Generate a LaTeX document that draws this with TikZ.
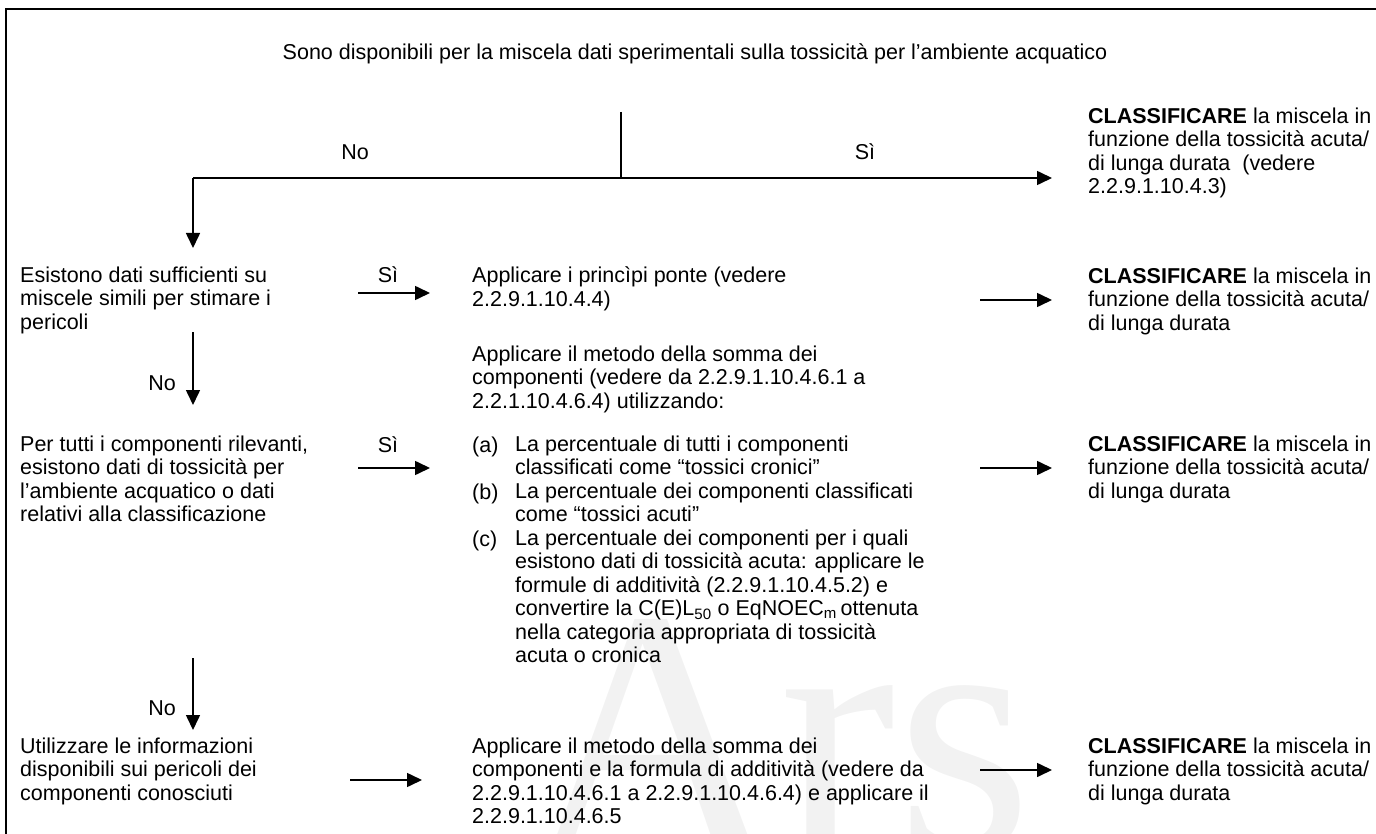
\documentclass[tikz,border=0pt]{standalone}
\usepackage{fontspec}
\setmainfont{Liberation Sans}
\newfontfamily\markfont{Liberation Serif}
\usetikzlibrary{arrows.meta}
\begin{document}
\begin{tikzpicture}[x=1pt,y=-1pt,
  txt/.style={anchor=north west,align=left,inner sep=0pt,font=\fontsize{21.5}{23.5}\selectfont,execute at begin node=\strut},
  lbl/.style={anchor=base,inner sep=0pt,font=\fontsize{21.5}{23.5}\selectfont},
  flow/.style={line width=1.6pt,-{Triangle[length=15pt,width=14pt]}},
  wire/.style={line width=1.6pt}]
\useasboundingbox (0,0) rectangle (1376,834);
% watermark
\node[anchor=base,inner sep=0pt,text=black!5,font=\fontsize{350}{350}\selectfont\markfont] (mark) at (780,850) {Ars};
% outer frame (open at right and bottom)
\draw[line width=2.2pt] (6,834) -- (6,9) -- (1376,9);

% question at the top
\node[lbl] (q0) at (695,60) {Sono disponibili per la miscela dati sperimentali sulla tossicità per l’ambiente acquatico};
\coordinate (q0s) at (621,112);
\coordinate (fork) at (621,178);
\coordinate (forkL) at (193,178);
\coordinate (forkR) at (1052,178);
\coordinate (r1in) at (193,248);
\draw[wire] (q0s) -- (fork);
\draw[flow] (forkL) -- (forkR);
\draw[flow] (forkL) -- (r1in);
\node[lbl] (no0) at (355,160) {No};
\node[lbl] (si0) at (865,160) {Sì};
\node[txt] (c0) at (1088,107.5) {\textbf{CLASSIFICARE} la miscela in\\funzione della tossicità acuta/\\di lunga durata\ \ (vedere\\2.2.9.1.10.4.3)};

% row 1: similar mixtures
\node[txt] (q1) at (20,266.5) {Esistono dati sufficienti su\\miscele simili per stimare i\\pericoli};
\node[lbl] (si1) at (388,283) {Sì};
\coordinate (a1s) at (358,293);
\coordinate (a1e) at (430,293);
\draw[flow] (a1s) -- (a1e);
\node[txt] (p1) at (472,266.5) {Applicare i princìpi ponte (vedere\\2.2.9.1.10.4.4)};
\coordinate (b1s) at (980,300);
\coordinate (b1e) at (1052,300);
\draw[flow] (b1s) -- (b1e);
\node[txt] (c1) at (1088,267.5) {\textbf{CLASSIFICARE} la miscela in\\funzione della tossicità acuta/\\di lunga durata};
\coordinate (d1s) at (193,332);
\coordinate (d1e) at (193,405);
\draw[flow] (d1s) -- (d1e);
\node[lbl] (no1) at (162,390) {No};

% row 2: all relevant components
\node[txt] (p2h) at (472,345.5) {Applicare il metodo della somma dei\\componenti (vedere da 2.2.9.1.10.4.6.1 a\\2.2.1.10.4.6.4) utilizzando:};
\node[txt] (q2) at (20,435.5) {Per tutti i componenti rilevanti,\\esistono dati di tossicità per\\l’ambiente acquatico o dati\\relativi alla classificazione};
\node[lbl] (si2) at (388,452) {Sì};
\coordinate (a2s) at (358,468);
\coordinate (a2e) at (430,468);
\draw[flow] (a2s) -- (a2e);
\node[txt] (ia) at (472,435.5) {(a)};
\node[txt] (ta) at (515,435.5) {La percentuale di tutti i componenti\\classificati come “tossici cronici”};
\node[txt] (ib) at (472,482.5) {(b)};
\node[txt] (tb) at (515,482.5) {La percentuale dei componenti classificati\\come “tossici acuti”};
\node[txt] (ic) at (472,529.5) {(c)};
\node[txt] (tc) at (515,529.5) {La percentuale dei componenti per i quali\\esistono dati di tossicità acuta: applicare le\\formule di additività (2.2.9.1.10.4.5.2) e\\convertire la C(E)L\textsubscript{50} o EqNOEC\textsubscript{m}\,ottenuta\\nella categoria appropriata di tossicità\\acuta o cronica};
\coordinate (b2s) at (980,468);
\coordinate (b2e) at (1052,468);
\draw[flow] (b2s) -- (b2e);
\node[txt] (c2) at (1088,435.5) {\textbf{CLASSIFICARE} la miscela in\\funzione della tossicità acuta/\\di lunga durata};
\coordinate (d2s) at (193,658);
\coordinate (d2e) at (193,730);
\draw[flow] (d2s) -- (d2e);
\node[lbl] (no2) at (162,715) {No};

% row 3: known component hazards
\node[txt] (q3) at (20,737.5) {Utilizzare le informazioni\\disponibili sui pericoli dei\\componenti conosciuti};
\coordinate (a3s) at (350,780);
\coordinate (a3e) at (422,780);
\draw[flow] (a3s) -- (a3e);
\node[txt] (p3) at (472,737.5) {Applicare il metodo della somma dei\\componenti e la formula di additività (vedere da\\2.2.9.1.10.4.6.1 a 2.2.9.1.10.4.6.4) e applicare il\\2.2.9.1.10.4.6.5};
\coordinate (b3s) at (980,770);
\coordinate (b3e) at (1052,770);
\draw[flow] (b3s) -- (b3e);
\node[txt] (c3) at (1088,737.5) {\textbf{CLASSIFICARE} la miscela in\\funzione della tossicità acuta/\\di lunga durata};
\end{tikzpicture}
\end{document}
